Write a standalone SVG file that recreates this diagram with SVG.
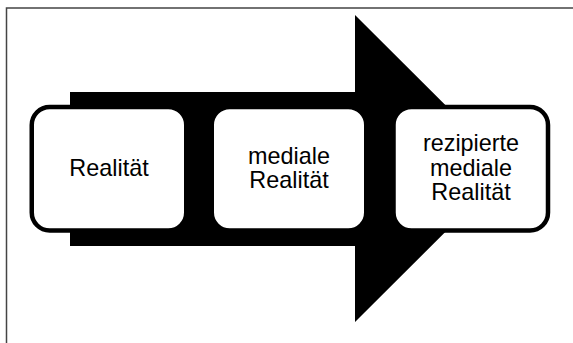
<svg xmlns="http://www.w3.org/2000/svg" width="573" height="343" viewBox="0 0 573 343">
<style>
.box{fill:#fff;stroke:#000;stroke-width:4.5}
.t{font-family:"Liberation Sans",Arial,sans-serif;font-size:23.4px;fill:#000;text-anchor:middle}
</style>
<rect x="0" y="0" width="573" height="343" fill="#fff"/>
<rect x="6.5" y="8" width="600" height="400" fill="none" stroke="#444" stroke-width="1.5"/>
<g id="connectors">
<path d="M70,92 H355 V15 L509,168.5 L355,322 V246 H70 Z" fill="#000"/>
</g>
<g id="node1">
<rect class="box" x="31.75" y="107" width="154.5" height="123.5" rx="18"/>
<text class="t" x="109" y="176">Realität</text>
</g>
<g id="node2">
<rect class="box" x="211.75" y="107" width="154.5" height="123.5" rx="18"/>
<text class="t" x="289" y="164">mediale</text>
<text class="t" x="289" y="188.3">Realität</text>
</g>
<g id="node3">
<rect class="box" x="393.5" y="107" width="154.5" height="123.5" rx="18"/>
<text class="t" x="471" y="150.7">rezipierte</text>
<text class="t" x="471" y="175.5">mediale</text>
<text class="t" x="471" y="200">Realität</text>
</g>
</svg>
